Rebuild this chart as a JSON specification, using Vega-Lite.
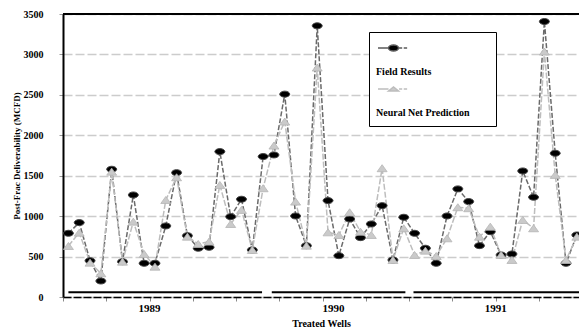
{
  "$schema": "https://vega.github.io/schema/vega-lite/v6.json",
  "width": 516,
  "height": 283,
  "autosize": {"type": "none"},
  "padding": {"left": 63, "top": 14, "right": 0, "bottom": 38},
  "background": "white",
  "config": {
    "view": {"stroke": null},
    "font": "Liberation Serif",
    "axisX": {
      "grid": false,
      "labels": false,
      "domainColor": "black",
      "domainWidth": 1.5,
      "domainDash": [8, 2],
      "tickColor": "#888888",
      "tickSize": 4,
      "tickWidth": 1,
      "titleFont": "Liberation Serif",
      "titleFontWeight": "bold",
      "titleFontSize": 10,
      "titleColor": "black",
      "titlePadding": 17
    },
    "axisY": {
      "grid": true,
      "gridColor": "#cccccc",
      "gridDash": [9, 3],
      "gridWidth": 1.5,
      "domainColor": "black",
      "domainWidth": 2,
      "tickColor": "#999999",
      "tickSize": 4,
      "labelFont": "Liberation Serif",
      "labelFontWeight": "bold",
      "labelFontSize": 10,
      "labelColor": "black",
      "labelPadding": 16,
      "titleFont": "Liberation Serif",
      "titleFontWeight": "bold",
      "titleFontSize": 9,
      "titleColor": "black",
      "titlePadding": 2
    },
    "legend": {
      "symbolStrokeWidth": 1.5,
      "symbolOpacity": 1
    }
  },
  "datasets": {
    "wells": [
      {"well":1,"series":"Field Results","value":788},{"well":2,"series":"Field Results","value":920},{"well":3,"series":"Field Results","value":449},{"well":4,"series":"Field Results","value":198},{"well":5,"series":"Field Results","value":1580},{"well":6,"series":"Field Results","value":437},{"well":7,"series":"Field Results","value":1262},{"well":8,"series":"Field Results","value":417},{"well":9,"series":"Field Results","value":417},{"well":10,"series":"Field Results","value":879},{"well":11,"series":"Field Results","value":1538},{"well":12,"series":"Field Results","value":759},{"well":13,"series":"Field Results","value":603},{"well":14,"series":"Field Results","value":615},{"well":15,"series":"Field Results","value":1798},{"well":16,"series":"Field Results","value":994},{"well":17,"series":"Field Results","value":1209},{"well":18,"series":"Field Results","value":582},{"well":19,"series":"Field Results","value":1737},{"well":20,"series":"Field Results","value":1757},{"well":21,"series":"Field Results","value":2509},{"well":22,"series":"Field Results","value":1002},{"well":23,"series":"Field Results","value":635},{"well":24,"series":"Field Results","value":3354},{"well":25,"series":"Field Results","value":1192},{"well":26,"series":"Field Results","value":511},{"well":27,"series":"Field Results","value":965},{"well":28,"series":"Field Results","value":734},{"well":29,"series":"Field Results","value":903},{"well":30,"series":"Field Results","value":1130},{"well":31,"series":"Field Results","value":458},{"well":32,"series":"Field Results","value":986},{"well":33,"series":"Field Results","value":788},{"well":34,"series":"Field Results","value":603},{"well":35,"series":"Field Results","value":417},{"well":36,"series":"Field Results","value":1002},{"well":37,"series":"Field Results","value":1337},{"well":38,"series":"Field Results","value":1180},{"well":39,"series":"Field Results","value":635},{"well":40,"series":"Field Results","value":808},{"well":41,"series":"Field Results","value":520},{"well":42,"series":"Field Results","value":532},{"well":43,"series":"Field Results","value":1559},{"well":44,"series":"Field Results","value":1234},{"well":45,"series":"Field Results","value":3407},{"well":46,"series":"Field Results","value":1778},{"well":47,"series":"Field Results","value":417},{"well":48,"series":"Field Results","value":767},
      {"well":1,"series":"Neural Net Prediction","value":631},{"well":2,"series":"Neural Net Prediction","value":796},{"well":3,"series":"Neural Net Prediction","value":425},{"well":4,"series":"Neural Net Prediction","value":293},{"well":5,"series":"Neural Net Prediction","value":1550},{"well":6,"series":"Neural Net Prediction","value":437},{"well":7,"series":"Neural Net Prediction","value":932},{"well":8,"series":"Neural Net Prediction","value":532},{"well":9,"series":"Neural Net Prediction","value":375},{"well":10,"series":"Neural Net Prediction","value":1200},{"well":11,"series":"Neural Net Prediction","value":1481},{"well":12,"series":"Neural Net Prediction","value":746},{"well":13,"series":"Neural Net Prediction","value":656},{"well":14,"series":"Neural Net Prediction","value":685},{"well":15,"series":"Neural Net Prediction","value":1386},{"well":16,"series":"Neural Net Prediction","value":903},{"well":17,"series":"Neural Net Prediction","value":1077},{"well":18,"series":"Neural Net Prediction","value":582},{"well":19,"series":"Neural Net Prediction","value":1345},{"well":20,"series":"Neural Net Prediction","value":1873},{"well":21,"series":"Neural Net Prediction","value":2170},{"well":22,"series":"Neural Net Prediction","value":1180},{"well":23,"series":"Neural Net Prediction","value":635},{"well":24,"series":"Neural Net Prediction","value":2838},{"well":25,"series":"Neural Net Prediction","value":800},{"well":26,"series":"Neural Net Prediction","value":767},{"well":27,"series":"Neural Net Prediction","value":1048},{"well":28,"series":"Neural Net Prediction","value":808},{"well":29,"series":"Neural Net Prediction","value":767},{"well":30,"series":"Neural Net Prediction","value":1593},{"well":31,"series":"Neural Net Prediction","value":458},{"well":32,"series":"Neural Net Prediction","value":850},{"well":33,"series":"Neural Net Prediction","value":520},{"well":34,"series":"Neural Net Prediction","value":573},{"well":35,"series":"Neural Net Prediction","value":507},{"well":36,"series":"Neural Net Prediction","value":726},{"well":37,"series":"Neural Net Prediction","value":1110},{"well":38,"series":"Neural Net Prediction","value":1098},{"well":39,"series":"Neural Net Prediction","value":746},{"well":40,"series":"Neural Net Prediction","value":870},{"well":41,"series":"Neural Net Prediction","value":520},{"well":42,"series":"Neural Net Prediction","value":458},{"well":43,"series":"Neural Net Prediction","value":953},{"well":44,"series":"Neural Net Prediction","value":850},{"well":45,"series":"Neural Net Prediction","value":3036},{"well":46,"series":"Neural Net Prediction","value":1510},{"well":47,"series":"Neural Net Prediction","value":458},{"well":48,"series":"Neural Net Prediction","value":746}
    ],
    "years": [
      {"year":"1989","start":1,"end":18.9,"mid":8.5},
      {"year":"1990","start":19.8,"end":32.15,"mid":25.5},
      {"year":"1991","start":32.9,"end":48.2,"mid":40.5}
    ]
  },
  "layer": [
    {
      "data": {"name": "wells"},
      "transform": [{"filter": "datum.series == 'Field Results'"}],
      "mark": {"type": "line", "color": "#6a6a6a", "strokeWidth": 1.5, "strokeDash": [5, 2]},
      "encoding": {
        "x": {"field": "well", "type": "quantitative", "scale": {"domain": [0.5, 48.2], "nice": false, "zero": false}, "title": "Treated Wells",
          "axis": {
            "values": [0.5,1.5,2.5,3.5,4.5,5.5,6.5,7.5,8.5,9.5,10.5,11.5,12.5,13.5,14.5,15.5,16.5,17.5,18.5,19.5,20.5,21.5,22.5,23.5,24.5,25.5,26.5,27.5,28.5,29.5,30.5,31.5,32.5,33.5,34.5,35.5,36.5,37.5,38.5,39.5,40.5,41.5,42.5,43.5,44.5,45.5,46.5,47.5],
            "labels": false
          }
        },
        "y": {"field": "value", "type": "quantitative", "scale": {"domain": [0, 3500], "nice": false}, "title": "Post-Frac Deliverability (MCFD)",
          "axis": {"values": [0, 500, 1000, 1500, 2000, 2500, 3000, 3500], "format": "d"}
        }
      }
    },
    {
      "data": {"name": "wells"},
      "transform": [{"filter": "datum.series == 'Neural Net Prediction'"}],
      "mark": {"type": "line", "color": "#bdbdbd", "strokeWidth": 1.5, "strokeDash": [6, 2]},
      "encoding": {
        "x": {"field": "well", "type": "quantitative", "title": "Treated Wells"},
        "y": {"field": "value", "type": "quantitative", "title": "Post-Frac Deliverability (MCFD)"}
      }
    },
    {
      "data": {"name": "wells"},
      "transform": [{"filter": "datum.series == 'Field Results'"}],
      "mark": {"type": "point", "filled": true, "shape": "M-1,0A1,0.6 0 1 1 1,0A1,0.6 0 1 1 -1,0Z", "size": 100, "fill": "black", "stroke": "#444444", "strokeWidth": 1, "opacity": 1},
      "encoding": {
        "x": {"field": "well", "type": "quantitative", "title": "Treated Wells"},
        "y": {"field": "value", "type": "quantitative", "title": "Post-Frac Deliverability (MCFD)"}
      }
    },
    {
      "data": {"name": "wells"},
      "transform": [{"filter": "datum.series == 'Neural Net Prediction'"}],
      "mark": {"type": "point", "filled": true, "shape": "M0,-0.7L1,0.7L-1,0.7Z", "size": 100, "fill": "#cacaca", "stroke": "#b5b5b5", "strokeWidth": 0.8, "opacity": 1},
      "encoding": {
        "x": {"field": "well", "type": "quantitative", "title": "Treated Wells"},
        "y": {"field": "value", "type": "quantitative", "title": "Post-Frac Deliverability (MCFD)"}
      }
    },
    {
      "data": {"name": "wells"},
      "mark": {"type": "point", "filled": true, "opacity": 0},
      "encoding": {
        "x": {"field": "well", "type": "quantitative", "title": "Treated Wells"},
        "y": {"field": "value", "type": "quantitative", "title": "Post-Frac Deliverability (MCFD)"},
        "shape": {
          "field": "series", "type": "nominal",
          "scale": {"domain": ["Field Results", "Neural Net Prediction"], "range": ["M-1,-0.774L-0.661,-0.774M-0.339,-0.774A0.161,0.097 0 1 1 -0.661,-0.774A0.161,0.097 0 1 1 -0.339,-0.774ZM-0.32,-0.774L-0.22,-0.774M-0.17,-0.774L-0.06,-0.774", "M-1,-0.774L-0.661,-0.774M-0.661,-0.71L-0.5,-0.84L-0.339,-0.71ZM-0.32,-0.774L-0.22,-0.774M-0.17,-0.774L-0.06,-0.774"]},
          "legend": {"title": null, "orient": "none", "legendX": 306, "legendY": 18, "strokeColor": "black", "fillColor": "white", "padding": 8, "symbolSize": 3844, "labelFont": "Liberation Serif", "labelFontWeight": "bold", "labelFontSize": 10, "labelColor": "black", "labelOffset": -65, "rowPadding": 4, "labelExpr": "datum.label + '\u00a0\u00a0\u00a0\u00a0\u00a0\u00a0\u00a0\u200b'", "encode": {"symbols": {"update": {"opacity": {"value": 1}}}}}
        },
        "fill": {
          "field": "series", "type": "nominal",
          "scale": {"domain": ["Field Results", "Neural Net Prediction"], "range": ["black", "#cacaca"]}
        },
        "stroke": {
          "field": "series", "type": "nominal",
          "scale": {"domain": ["Field Results", "Neural Net Prediction"], "range": ["#5a5a5a", "#bdbdbd"]}
        }
      }
    },
    {
      "data": {"name": "years"},
      "mark": {"type": "rule", "color": "black", "strokeWidth": 2},
      "encoding": {
        "x": {"field": "start", "type": "quantitative", "title": "Treated Wells"},
        "x2": {"field": "end"},
        "y": {"datum": 60, "type": "quantitative", "title": "Post-Frac Deliverability (MCFD)"}
      }
    },
    {
      "data": {"name": "years"},
      "mark": {"type": "text", "font": "Liberation Serif", "fontWeight": "bold", "fontSize": 11, "color": "black", "baseline": "middle", "align": "center", "clip": false},
      "encoding": {
        "x": {"field": "mid", "type": "quantitative", "title": "Treated Wells"},
        "y": {"datum": -148, "type": "quantitative", "title": "Post-Frac Deliverability (MCFD)"},
        "text": {"field": "year"}
      }
    },
    {
      "data": {"values": [{}]},
      "mark": {"type": "rule", "color": "black", "strokeWidth": 2},
      "encoding": {
        "y": {"datum": 3500, "type": "quantitative", "title": "Post-Frac Deliverability (MCFD)"}
      }
    }
  ]
}
